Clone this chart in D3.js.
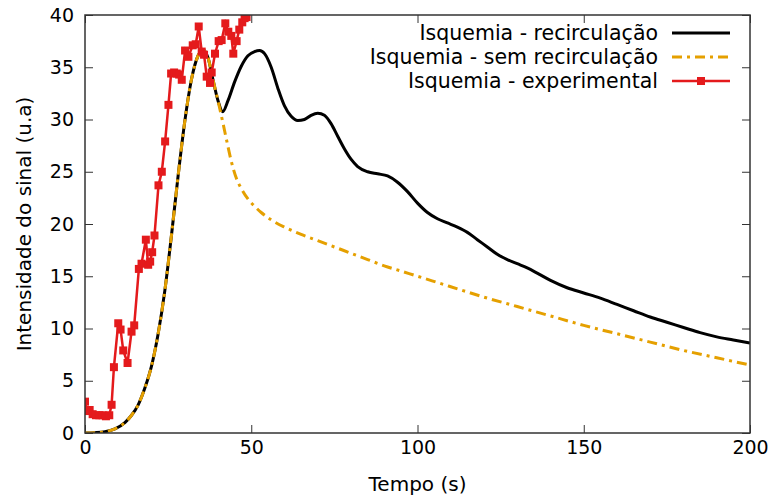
<!DOCTYPE html>
<html><head><meta charset="utf-8">
<script src="https://cdn.jsdelivr.net/npm/d3@7"></script>
<style>body{margin:0;background:#fff}svg text{font-family:"DejaVu Sans",sans-serif;fill:#000}</style>
</head><body><svg id="c" width="771" height="496"></svg>
<script>
const xTicks=[0,50,100,150,200];
const yTicks=[0,5,10,15,20,25,30,35,40];
const seriesNames=["Isquemia - recirculação","Isquemia - sem recirculação","Isquemia - experimental"];
const recircT=[0,3,6,9,12,14,16,18,20,22,24,26,28,30,32,34,35.6,37,38.5,40,41.4,43,45,47,49,51,52.5,54,56,58,60,62,64,66,68,70,72,74,76,78,80,82,85,88,91,94,97,100,103,106,109,112,115,118,121,124,127,130,133,136,140,145,150,155,160,165,170,175,180,185,190,195,200];
const recircY=[0,0.03,0.12,0.4,1.0,1.7,2.7,4.3,6.4,9.5,13.6,18.9,24.6,29.8,33.8,36.1,36.65,35.9,33.8,31.8,30.75,31.8,33.6,35.1,36.1,36.5,36.6,36.3,35.0,33.0,31.3,30.3,29.9,30.0,30.4,30.6,30.4,29.6,28.4,27.2,26.2,25.5,25.0,24.8,24.6,24.0,23.1,22.0,21.1,20.5,20.1,19.7,19.2,18.5,17.8,17.1,16.6,16.2,15.8,15.3,14.6,13.9,13.4,12.9,12.3,11.7,11.1,10.6,10.1,9.6,9.2,8.9,8.6];
const semT=[0,3,6,9,12,14,16,18,20,22,24,26,28,30,32,34,35.6,37,38.5,40,41.4,42.6,44,45.5,47,49,51,53,56,60,65,70,75,80,85,90,95,100,110,120,130,140,150,160,170,180,190,200];
const semY=[0,0.03,0.12,0.4,1.0,1.7,2.7,4.3,6.4,9.5,13.6,18.9,24.6,29.8,33.8,36.1,36.65,35.9,33.8,31.8,29.8,28.0,26.0,24.4,23.4,22.4,21.7,21.1,20.4,19.7,19.0,18.4,17.8,17.2,16.6,16.0,15.5,15.0,14.0,13.0,12.1,11.2,10.3,9.5,8.7,7.9,7.2,6.5];
const expT=[0,0.6,1.4,2.3,3.3,4.3,5.3,6.3,7.3,8.0,8.7,10.0,10.7,11.5,12.8,14.0,14.8,16.2,17.0,18.3,19.0,19.6,20.2,20.9,22.1,23.1,24.1,25.1,25.9,26.8,27.6,28.3,29.1,30.1,31.1,32.4,33.3,34.2,35.1,35.8,36.6,37.6,38.1,39.1,40.2,41.1,42.2,43.1,44.0,44.6,45.6,46.4,47.3,48.0,48.6,49.5];
const expY=[3.0,2.1,2.2,1.8,1.7,1.7,1.7,1.6,1.7,2.7,6.3,10.5,9.9,7.9,6.7,9.7,10.3,15.7,16.2,18.5,16.1,16.4,17.3,18.9,23.7,25.0,27.9,31.4,34.4,34.5,34.4,34.3,33.8,36.6,36.0,37.1,37.2,38.9,36.5,36.2,34.1,33.5,34.5,36.3,37.5,37.6,39.2,38.4,38.0,36.3,37.5,38.6,39.3,39.7,39.8,40.5];
const colors=["#000000","#e5a000","#e41a1c"];

const svg=d3.select("#c");
const L=85,R=750,T=15,B=433;
const x=d3.scaleLinear().domain([0,200]).range([L,R]);
const y=d3.scaleLinear().domain([0,40]).range([B,T]);

svg.append("defs").append("clipPath").attr("id","clip").append("rect")
 .attr("x",L).attr("y",T).attr("width",R-L).attr("height",B-T);

const tickLen=8;
svg.append("g").attr("transform",`translate(0,${B})`)
 .call(d3.axisBottom(x).tickValues(xTicks).tickSizeInner(-tickLen).tickSizeOuter(0).tickPadding(8))
 .call(g=>{g.select(".domain").remove();g.selectAll("text").attr("font-size",19).attr("dy","0.71em");g.selectAll("line").attr("stroke","#333");});
svg.append("g").attr("transform",`translate(0,${T})`)
 .call(d3.axisTop(x).tickValues(xTicks).tickSizeInner(-tickLen).tickSizeOuter(0).tickFormat(""))
 .call(g=>{g.select(".domain").remove();g.selectAll("line").attr("stroke","#333");});
svg.append("g").attr("transform",`translate(${L},0)`)
 .call(d3.axisLeft(y).tickValues(yTicks).tickSizeInner(-tickLen).tickSizeOuter(0).tickPadding(11))
 .call(g=>{g.select(".domain").remove();g.selectAll("text").attr("font-size",19);g.selectAll("line").attr("stroke","#333");});
svg.append("g").attr("transform",`translate(${R},0)`)
 .call(d3.axisRight(y).tickValues(yTicks).tickSizeInner(-tickLen).tickSizeOuter(0).tickFormat(""))
 .call(g=>{g.select(".domain").remove();g.selectAll("line").attr("stroke","#333");});

const plot=svg.append("g").attr("clip-path","url(#clip)");
const line=d3.line().x(d=>x(d[0])).y(d=>y(d[1])).curve(d3.curveMonotoneX);
const recirc=recircT.map((t,i)=>[t,recircY[i]]);
const sem=semT.map((t,i)=>[t,semY[i]]);
const exp=expT.map((t,i)=>[t,expY[i]]);

plot.append("path").datum(recirc).attr("d",line).attr("fill","none").attr("stroke",colors[0]).attr("stroke-width",3);
plot.append("path").datum(sem).attr("d",line).attr("fill","none").attr("stroke",colors[1]).attr("stroke-width",3).attr("stroke-dasharray","10,5,3,5");
const lineL=d3.line().x(d=>x(d[0])).y(d=>y(d[1]));
plot.append("path").datum(exp).attr("d",lineL).attr("fill","none").attr("stroke",colors[2]).attr("stroke-width",2.5);
plot.selectAll("rect.m").data(exp).join("rect").attr("class","m")
 .attr("x",d=>x(d[0])-4).attr("y",d=>y(d[1])-4).attr("width",8).attr("height",8).attr("fill",colors[2]);

svg.append("rect").attr("x",L).attr("y",T).attr("width",R-L).attr("height",B-T)
 .attr("fill","none").attr("stroke","#333").attr("stroke-width",1.5);

svg.append("text").attr("x",(L+R)/2).attr("y",491).attr("text-anchor","middle").attr("font-size",20).text("Tempo (s)");
svg.append("text").attr("transform",`translate(31,${(T+B)/2}) rotate(-90)`).attr("text-anchor","middle").attr("font-size",20).text("Intensidade do sinal (u.a)");

const lg=svg.append("g");
const rows=[33,57,81];
seriesNames.forEach((n,i)=>{
 lg.append("text").attr("x",658).attr("y",rows[i]).attr("dy","0.35em").attr("text-anchor","end").attr("font-size",20.5).text(n);
 const ln=lg.append("line").attr("x1",672).attr("x2",730).attr("y1",rows[i]).attr("y2",rows[i]).attr("stroke",colors[i]).attr("stroke-width",i===2?2.5:3);
 if(i===1) ln.attr("stroke-dasharray","10,5,3,5");
 if(i===2) lg.append("rect").attr("x",701-4).attr("y",rows[i]-4).attr("width",8).attr("height",8).attr("fill",colors[2]);
});
</script></body></html>
